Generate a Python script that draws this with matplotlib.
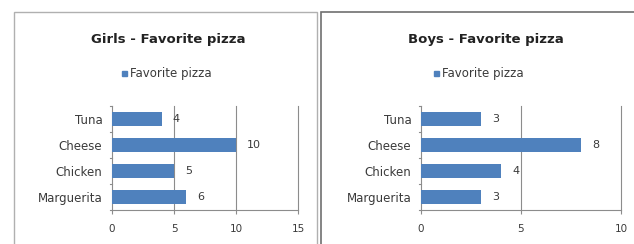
import matplotlib
matplotlib.use("Agg")
import matplotlib.pyplot as plt
from matplotlib.patches import Rectangle

categories = ["Marguerita", "Chicken", "Cheese", "Tuna"]
girls = [6, 5, 10, 4]
boys = [3, 4, 8, 3]
titles = ["Girls - Favorite pizza", "Boys - Favorite pizza"]
series_name = "Favorite pizza"
xmax = [15, 10]
xticks = [[0, 5, 10, 15], [0, 5, 10]]

W, H = 634, 244
plt.rcParams['font.family'] = ['DejaVu Sans']
fig = plt.figure(figsize=(W / 100, H / 100), dpi=100)
fig.patch.set_facecolor("white")

def fx(px):
    return px / W

def fy(py):
    return 1 - py / H

bar_color = "#4F81BD"
grid_color = "#8c8c8c"
text_color = "#3a3a3a"

# chart frames
fig.patches.append(Rectangle((fx(14), fy(250)), fx(303), fy(12) - fy(250),
                             transform=fig.transFigure, fill=False,
                             edgecolor="#b0b0b0", linewidth=1.0))
fig.patches.append(Rectangle((fx(321), fy(250)), fx(330), fy(12) - fy(250),
                             transform=fig.transFigure, fill=False,
                             edgecolor="#707070", linewidth=1.2))

panels = [
    dict(data=girls, left=112, right=298, center=168, lcenter=176),
    dict(data=boys, left=421, right=621, center=486, lcenter=488),
]
top, bottom = 106, 210

for i, p in enumerate(panels):
    ax = fig.add_axes([fx(p["left"]), fy(bottom), fx(p["right"] - p["left"]),
                       fy(top) - fy(bottom)])
    ypos = list(range(len(categories)))
    ax.barh(ypos, p["data"], height=0.55, color=bar_color, zorder=3)
    ax.set_xlim(0, xmax[i])
    ax.set_ylim(-0.5, len(categories) - 0.5)
    ax.set_xticks(xticks[i])
    ax.set_xticklabels([str(t) for t in xticks[i]], fontsize=7.5, color=text_color)
    ax.set_yticks(ypos)
    ax.set_yticklabels(categories, fontsize=8.5, color=text_color)
    ax.tick_params(axis="y", length=0, pad=7)
    ax.tick_params(axis="x", length=3, color=grid_color, pad=7)
    for t in xticks[i][1:]:
        ax.axvline(t, color=grid_color, linewidth=0.8, zorder=0, clip_on=False)
    for s in ["top", "right"]:
        ax.spines[s].set_visible(False)
    for s in ["left", "bottom"]:
        ax.spines[s].set_color(grid_color)
        ax.spines[s].set_linewidth(0.8)
    # category boundary ticks on y axis
    for b in [k - 0.5 for k in range(len(categories) + 1)]:
        ax.plot([-0.012 * xmax[i], 0], [b, b], color=grid_color, linewidth=0.8,
                clip_on=False, zorder=4)
    for y, v in zip(ypos, p["data"]):
        ax.annotate(str(v), (v, y), xytext=(8, 0), textcoords="offset points",
                    va="center", ha="left", fontsize=8, color=text_color)
    fig.text(fx(p["center"]), fy(39), titles[i], ha="center", va="center",
             fontsize=9.5, fontweight="bold", color="#222222")
    # legend
    lx = p["lcenter"] - 54
    fig.patches.append(Rectangle((fx(lx), fy(76)), fx(5), fy(71) - fy(76),
                                 transform=fig.transFigure, color=bar_color))
    fig.text(fx(lx + 8), fy(73.5), series_name, ha="left", va="center",
             fontsize=8.5, color=text_color)

fig.savefig("out.png", dpi=100, facecolor="white")
